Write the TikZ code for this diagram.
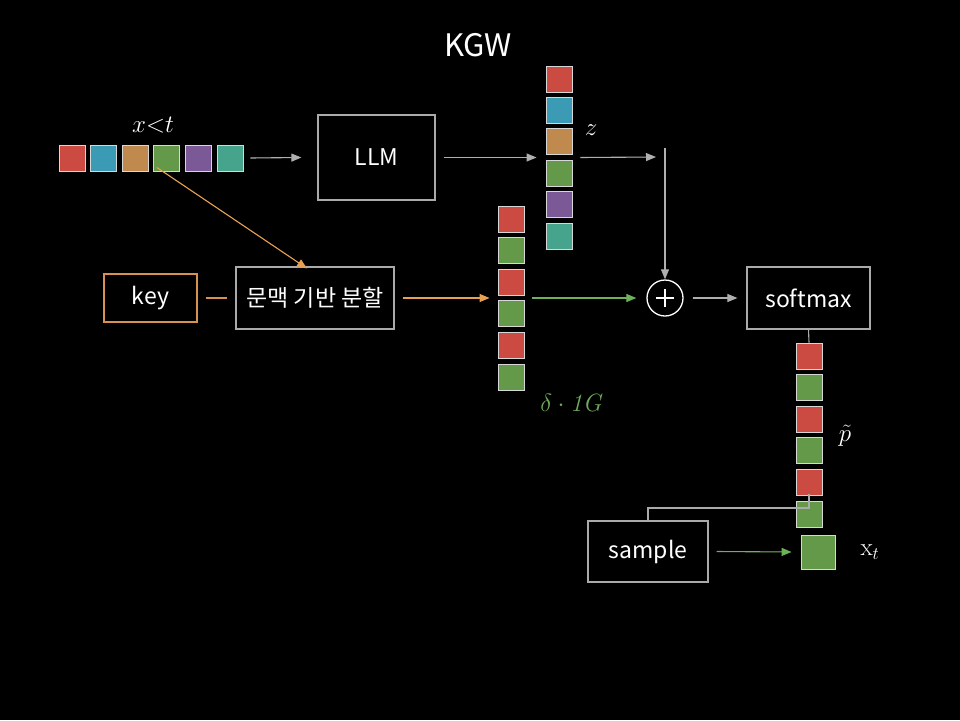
\RequirePackage{fix-cm}
\documentclass[tikz,border=0pt]{standalone}
\usepackage[no-math]{fontspec}
\setmainfont{Noto Sans CJK KR}
\usetikzlibrary{arrows.meta}
\definecolor{cred}{RGB}{203,74,66}
\definecolor{cblue}{RGB}{60,155,180}
\definecolor{corange}{RGB}{192,137,78}
\definecolor{cgreen}{RGB}{99,153,72}
\definecolor{cpurple}{RGB}{123,88,150}
\definecolor{cteal}{RGB}{70,163,140}
\definecolor{cellborder}{RGB}{215,215,215}
\definecolor{boxgray}{RGB}{170,170,170}
\definecolor{arrgray}{RGB}{175,175,175}
\definecolor{arrorange}{RGB}{232,160,82}
\definecolor{keyorange}{RGB}{215,145,80}
\definecolor{arrgreen}{RGB}{110,178,88}
\definecolor{lblgreen}{RGB}{112,170,92}
\tikzset{
  cell/.style={draw=cellborder, line width=0.9pt, minimum size=26pt, inner sep=0pt},
  bigcell/.style={cell, minimum size=34pt},
  blockbox/.style={draw=boxgray, line width=1.2pt, inner sep=0pt, text=white, font=\fontsize{23}{26}\selectfont},
  tip/.style={-{Triangle[length=10pt,width=8pt]}},
  garrow/.style={tip, draw=arrgray, fill=arrgray, line width=1.1pt},
  oarrow/.style={tip, draw=arrorange, fill=arrorange, line width=1.1pt},
  grarrow/.style={tip, draw=arrgreen, fill=arrgreen, line width=1.1pt},
  mlabel/.style={text=white, font=\fontsize{25}{28}\selectfont, inner sep=0pt},
}
\begin{document}
\begin{tikzpicture}[x=1pt,y=-1pt]
\fill[black] (0,0) rectangle (960,720);
\useasboundingbox (0,0) rectangle (960,720);

\node[text=white, font=\fontsize{31}{34}\selectfont] (title) at (478,45) {KGW};

% input tokens
\node[cell, fill=cred]    (in1) at (72,158) {};
\node[cell, fill=cblue]   (in2) at (103.6,158) {};
\node[cell, fill=corange] (in3) at (135.2,158) {};
\node[cell, fill=cgreen]  (in4) at (166.8,158) {};
\node[cell, fill=cpurple] (in5) at (198.4,158) {};
\node[cell, fill=cteal]   (in6) at (230,158) {};
\node[mlabel] (xlt) at (153,125) {$x{<}t$};

% LLM
\node[blockbox, minimum width=117pt, minimum height=85pt] (llm) at (376.5,157.5) {LLM};

% z column
\node[cell, fill=cred]    (z1) at (559,79) {};
\node[cell, fill=cblue]   (z2) at (559,110.4) {};
\node[cell, fill=corange] (z3) at (559,141.8) {};
\node[cell, fill=cgreen]  (z4) at (559,173.2) {};
\node[cell, fill=cpurple] (z5) at (559,204.6) {};
\node[cell, fill=cteal]   (z6) at (559,236) {};
\node[mlabel] (zl) at (591,130) {$z$};

% key and split
\node[blockbox, draw=keyorange, minimum width=93pt, minimum height=48pt] (key) at (150.5,298) {key};
\node[blockbox, minimum width=158pt, minimum height=62pt] (split) at (315,298) {문맥 기반 분할};

% green list column
\node[cell, fill=cred]   (g1) at (511,219) {};
\node[cell, fill=cgreen] (g2) at (511,250.6) {};
\node[cell, fill=cred]   (g3) at (511,282.2) {};
\node[cell, fill=cgreen] (g4) at (511,313.8) {};
\node[cell, fill=cred]   (g5) at (511,345.4) {};
\node[cell, fill=cgreen] (g6) at (511,377) {};
\node[mlabel, text=lblgreen] (dl) at (572,403) {$\delta\cdot\mathit{1G}$};

% plus
\node[draw=white, line width=1.3pt, circle, minimum size=36pt, inner sep=0pt] (plus) at (665,298) {};
\draw[white, line width=1.5pt] (plus.center) ++(-9,0) -- ++(18,0) (plus.center) ++(0,-9) -- ++(0,18);

% softmax
\node[blockbox, minimum width=123pt, minimum height=62pt] (soft) at (808.5,298) {softmax};

% p column
\node[cell, fill=cred]   (p1) at (809,356) {};
\node[cell, fill=cgreen] (p2) at (809,387.6) {};
\node[cell, fill=cred]   (p3) at (809,419.2) {};
\node[cell, fill=cgreen] (p4) at (809,450.8) {};
\node[cell, fill=cred]   (p5) at (809,482.4) {};
\node[cell, fill=cgreen] (p6) at (809,514) {};
\node[mlabel] (pl) at (845,436) {$\tilde{p}$};

% sample
\node[blockbox, minimum width=120pt, minimum height=61pt] (sample) at (648,551.5) {sample};
\node[bigcell, fill=cgreen] (xt) at (818,552) {};
\node[mlabel] (xtl) at (870,552) {$\mathrm{x}_{t}$};

% connectors
\coordinate (zc) at (665,157);
\coordinate (turn) at (809,508);
\draw[garrow] ([xshift=7pt]in6.east) -- ([xshift=-16pt]llm.west);
\draw[garrow] ([xshift=8pt]llm.east) -- ([xshift=-9pt]llm.east -| z1.west);
\draw[garrow] ([xshift=8pt]llm.east -| z1.east) -- ([xshift=-9pt]zc);
\draw[garrow] ([yshift=9pt]zc) -- (plus.north);
\draw[oarrow] ([xshift=-10pt,yshift=4pt]in4.south) -- ([xshift=-8pt,yshift=-2pt]split.north);
\draw[draw=keyorange, line width=1.1pt] ([xshift=8pt]key.east) -- ([xshift=-8pt]split.west);
\draw[oarrow] ([xshift=8pt]split.east) -- ([xshift=-8pt]split.east -| g1.west);
\draw[grarrow] ([xshift=8pt]split.east -| g1.east) -- ([xshift=-10pt]plus.west);
\draw[garrow] ([xshift=9pt]plus.east) -- ([xshift=-9pt]soft.west);
\draw[draw=boxgray, line width=1.1pt] (soft.south) -- (p1.north);
\draw[draw=boxgray, line width=1.1pt] ([yshift=2pt]p5.south) -- (turn) -| (sample.north);
\draw[grarrow] ([xshift=8pt]sample.east) -- ([xshift=-9pt]xt.west);
\end{tikzpicture}
\end{document}
